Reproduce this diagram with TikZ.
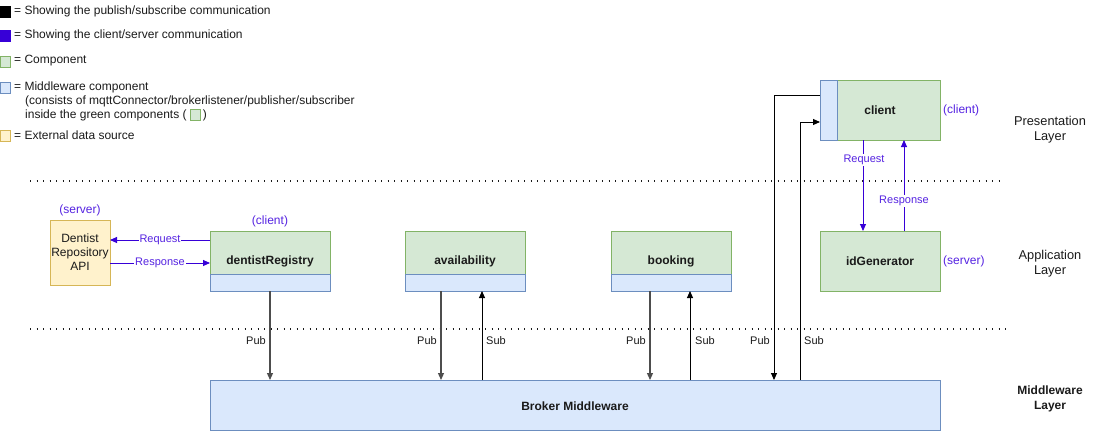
\documentclass[tikz,border=0pt]{standalone}
\usepackage{fontspec}
\setmainfont{Liberation Sans}
\usetikzlibrary{arrows.meta,positioning}
\definecolor{gfill}{HTML}{D5E8D4}
\definecolor{gdraw}{HTML}{82B366}
\definecolor{bfill}{HTML}{DAE8FC}
\definecolor{bdraw}{HTML}{6C8EBF}
\definecolor{yfill}{HTML}{FFF2CC}
\definecolor{ydraw}{HTML}{D6B656}
\definecolor{purp}{RGB}{55,0,215}
\definecolor{purptext}{RGB}{85,35,225}
\definecolor{pubgray}{HTML}{4D4D4D}
\definecolor{txt}{HTML}{1A1A1A}
\tikzset{
  greenbox/.style={draw=gdraw,fill=gfill,line width=0.9pt},
  bluebox/.style={draw=bdraw,fill=bfill,line width=0.9pt},
  yellowbox/.style={draw=ydraw,fill=yfill,line width=0.9pt},
  lbl/.style={font=\fontsize{11}{13}\selectfont,text=txt,inner sep=0pt},
  leg/.style={font=\fontsize{12}{14}\selectfont,text=txt,inner sep=0pt},
  comp/.style={font=\bfseries\fontsize{12}{14}\selectfont,text=txt,inner sep=0pt},
  ptxt/.style={font=\fontsize{12}{14}\selectfont,text=purptext,inner sep=0pt},
  elabel/.style={font=\fontsize{11}{13}\selectfont,inner sep=1pt,fill=white},
  psarrow/.style={draw=black,line width=0.9pt,-{Triangle[length=7pt,width=6pt]}},
  pubarrow/.style={draw=pubgray,line width=1.2pt,-{Triangle[length=7pt,width=6pt]}},
  csarrow/.style={draw=purp,line width=0.9pt,-{Triangle[length=7pt,width=6pt]}},
  dotline/.style={line width=1.3pt,dash pattern=on 1.3pt off 5.2pt,draw=txt},
  legsq/.style={minimum width=10pt,minimum height=11pt,inner sep=0pt,line width=0.9pt},
  layer/.style={font=\fontsize{12.8}{15}\selectfont,text=txt,align=center,inner sep=0pt}
}
\begin{document}
\begin{tikzpicture}[x=1pt,y=-1pt]
\useasboundingbox (0,0) rectangle (1098,442);

% legend
\node[legsq,fill=black,draw=black] (sq1) at (5,11.5) {};
\node[leg,anchor=west] (l1) at (14,11) {= Showing the publish/subscribe communication};
\node[legsq,fill=purp,draw=purp] (sq2) at (5,35.5) {};
\node[leg,anchor=west] (l2) at (14,35) {= Showing the client/server communication};
\node[legsq,fill=gfill,draw=gdraw] (sq3) at (5,61.5) {};
\node[leg,anchor=west] (l3) at (14,61) {= Component};
\node[legsq,fill=bfill,draw=bdraw] (sq4) at (5,87.5) {};
\node[leg,anchor=west] (l4) at (14,87) {= Middleware component};
\node[leg,anchor=west] (l4b) at (25,101) {(consists of mqttConnector/brokerlistener/publisher/subscriber};
\node[leg,anchor=west] (l4c) at (25,115) {inside the green components (};
\node[legsq,fill=gfill,draw=gdraw,right=3pt of l4c] (sq6) {};
\node[leg,right=2pt of sq6] (l4d) {)};
\node[legsq,fill=yfill,draw=ydraw] (sq5) at (5,135.5) {};
\node[leg,anchor=west] (l5) at (14,135) {= External data source};

% layer separators
\coordinate (d1a) at (30,181);
\coordinate (d1b) at (1002,181);
\coordinate (d2a) at (30,329);
\coordinate (d2b) at (1010,329);
\draw[dotline] (d1a) -- (d1b);
\draw[dotline] (d2a) -- (d2b);

% layer labels
\node[layer] (lp) at (1050,130) {Presentation\\Layer};
\node[layer] (la) at (1050,264) {Application\\Layer};
\node[layer,font=\bfseries\fontsize{12}{15}\selectfont] (lm) at (1050,399) {Middleware\\Layer};

% client
\path[greenbox] (820,80) rectangle (940,140);
\path[bluebox] (820,80) rectangle (837,140);
\node[comp] (client) at (880,110) {client};
\node[ptxt,anchor=west] (clienttag) at (943,110) {(client)};

% idGenerator
\path[greenbox] (820,231) rectangle (940,291);
\node[comp] (idgen) at (880,261) {idGenerator};
\node[ptxt,anchor=west] (idgentag) at (943,261) {(server)};

% dentistRegistry
\path[greenbox] (210,231) rectangle (330,274);
\path[bluebox] (210,274) rectangle (330,291);
\node[comp] (dentist) at (270,261) {dentistRegistry};
\node[ptxt] (dentisttag) at (270,221) {(client)};

% availability
\path[greenbox] (405,231) rectangle (525,274);
\path[bluebox] (405,274) rectangle (525,291);
\node[comp] (avail) at (465,261) {availability};

% booking
\path[greenbox] (611,231) rectangle (731,274);
\path[bluebox] (611,274) rectangle (731,291);
\node[comp] (booking) at (671,261) {booking};

% Dentist Repository API
\path[yellowbox] (50,220) rectangle (110,285);
\node[leg,align=center] (api) at (80,252.5) {Dentist\\Repository\\API};
\node[ptxt] (apitag) at (80,210) {(server)};

% broker
\path[bluebox] (210,380) rectangle (940,430);
\node[comp] (broker) at (575,406) {Broker Middleware};

% client/server arrows
\coordinate (drA) at (210,240);
\coordinate (apiA) at (110,240);
\coordinate (apiB) at (110,263);
\coordinate (drB) at (210,263);
\draw[csarrow] (drA) -- node[elabel,text=purptext,pos=0.5] {Request} (apiA);
\draw[csarrow] (apiB) -- node[elabel,text=purptext,pos=0.5] {Response} (drB);

\coordinate (cReqS) at (863,140);
\coordinate (cReqE) at (863,231);
\coordinate (cResS) at (904,231);
\coordinate (cResE) at (904,140);
\draw[csarrow] (cReqS) -- (cReqE);
\node[elabel,text=purptext] (reqlbl) at (864,160) {Request};
\draw[csarrow] (cResS) -- (cResE);
\node[elabel,text=purptext] (reslbl) at (904,201) {Response};

% pub/sub arrows
\coordinate (p1s) at (270,291);
\coordinate (p1e) at (270,380);
\draw[pubarrow] (p1s) -- (p1e);
\node[lbl] (pub1) at (256,341) {Pub};

\coordinate (p2s) at (441,291);
\coordinate (p2e) at (441,380);
\draw[pubarrow] (p2s) -- (p2e);
\node[lbl] (pub2) at (427,341) {Pub};
\coordinate (s2s) at (482,380);
\coordinate (s2e) at (482,291);
\draw[psarrow] (s2s) -- (s2e);
\node[lbl] (sub2) at (496,341) {Sub};

\coordinate (p3s) at (650,291);
\coordinate (p3e) at (650,380);
\draw[pubarrow] (p3s) -- (p3e);
\node[lbl] (pub3) at (636,341) {Pub};
\coordinate (s3s) at (690,380);
\coordinate (s3e) at (690,291);
\draw[psarrow] (s3s) -- (s3e);
\node[lbl] (sub3) at (705,341) {Sub};

\coordinate (p4s) at (820,95);
\coordinate (p4e) at (774,380);
\draw[psarrow] (p4s) -| (p4e);
\node[lbl] (pub4) at (760,341) {Pub};
\coordinate (s4s) at (800,380);
\coordinate (s4e) at (820,122);
\draw[psarrow] (s4s) |- (s4e);
\node[lbl] (sub4) at (814,341) {Sub};
\end{tikzpicture}
\end{document}
